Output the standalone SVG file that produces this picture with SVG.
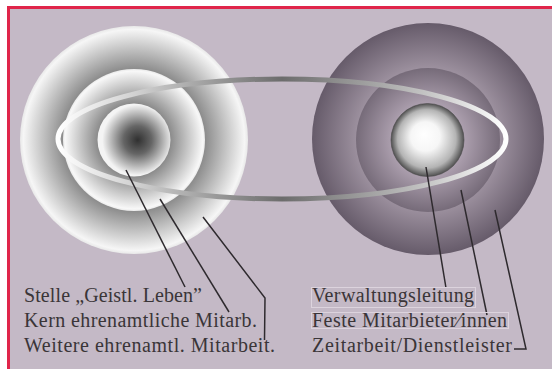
<svg xmlns="http://www.w3.org/2000/svg" width="552" height="369" viewBox="0 0 552 369">
<style>
.lbl{font-family:"Liberation Serif","DejaVu Serif",serif;font-size:20px;fill:#3a3538}
.lead{fill:none;stroke:#2e2a2e;stroke-width:1.5;stroke-linejoin:miter}
.box{fill:none;stroke:#dcd3dd;stroke-width:1}
</style>
<defs>
<radialGradient id="gLo" cx="0.5" cy="0.5" r="0.5">
<stop offset="0" stop-color="#555"/><stop offset="0.6" stop-color="#858585"/><stop offset="0.97" stop-color="#f6f6f6"/><stop offset="1" stop-color="#e8e8e8"/>
</radialGradient>
<radialGradient id="gLm" cx="0.5" cy="0.5" r="0.5">
<stop offset="0" stop-color="#555"/><stop offset="0.5" stop-color="#888"/><stop offset="0.97" stop-color="#f8f8f8"/><stop offset="1" stop-color="#eaeaea"/>
</radialGradient>
<radialGradient id="gLi" cx="0.55" cy="0.5" r="0.55">
<stop offset="0" stop-color="#303030"/><stop offset="0.35" stop-color="#656565"/><stop offset="0.88" stop-color="#f4f4f4"/><stop offset="1" stop-color="#f4f4f4"/>
</radialGradient>
<radialGradient id="gRo" cx="0.5" cy="0.5" r="0.5">
<stop offset="0" stop-color="#b4a8b6"/><stop offset="0.6" stop-color="#9e92a0"/><stop offset="1" stop-color="#665b6a"/>
</radialGradient>
<radialGradient id="gRm" cx="0.5" cy="0.5" r="0.5">
<stop offset="0" stop-color="#b8acba"/><stop offset="0.5" stop-color="#ac9fae"/><stop offset="1" stop-color="#766b79"/>
</radialGradient>
<radialGradient id="gRi" cx="0.5" cy="0.5" r="0.5" fx="0.45" fy="0.42">
<stop offset="0" stop-color="#ffffff"/><stop offset="0.4" stop-color="#f6f6f6"/><stop offset="0.8" stop-color="#b4b4b4"/><stop offset="1" stop-color="#505050"/>
</radialGradient>
<linearGradient id="gRing" gradientUnits="userSpaceOnUse" x1="58" y1="0" x2="506" y2="0">
<stop offset="0" stop-color="#ffffff"/><stop offset="0.18" stop-color="#cfcfcf"/><stop offset="0.5" stop-color="#6c6c6c"/><stop offset="0.82" stop-color="#c4c4c4"/><stop offset="1" stop-color="#ffffff"/>
</linearGradient>
</defs>
<rect x="0" y="0" width="552" height="369" fill="#ffffff"/>
<rect x="8" y="7" width="544" height="362" fill="#c4b9c6"/>
<path d="M8.5 369 V7.5 H552" fill="none" stroke="#e0254a" stroke-width="3"/>
<g id="left-outer"><circle cx="134" cy="140" r="114" fill="url(#gLo)"/></g>
<g id="left-middle"><circle cx="134" cy="140" r="71" fill="url(#gLm)"/></g>
<g id="left-inner"><circle cx="134" cy="140" r="36.5" fill="url(#gLi)"/></g>
<g id="right-outer"><circle cx="428" cy="139" r="116" fill="url(#gRo)"/></g>
<g id="right-middle"><circle cx="428" cy="140" r="72" fill="url(#gRm)"/></g>
<g id="right-inner"><circle cx="427.5" cy="140" r="36.5" fill="url(#gRi)" stroke="#4a4a4a" stroke-width="0.6"/></g>
<g id="ring"><ellipse cx="282" cy="139" rx="224" ry="60" fill="none" stroke="url(#gRing)" stroke-width="5"/></g>
<g id="connectors">
<path class="lead" d="M126 170 L185 287"/>
<path class="lead" d="M160 199 L229 312"/>
<path class="lead" d="M203 217 L265 298 L264.5 340"/>
<path class="lead" d="M426 167 L446 288"/>
<path class="lead" d="M461 190 L487 315"/>
<path class="lead" d="M495 210 L526 349 L514 349"/>
</g>
<g id="labels-left">
<text class="lbl" x="24" y="302" textLength="178" lengthAdjust="spacing">Stelle „Geistl. Leben”</text>
<text class="lbl" x="24" y="327" textLength="233" lengthAdjust="spacing">Kern ehrenamtliche Mitarb.</text>
<text class="lbl" x="24" y="352" textLength="251" lengthAdjust="spacing">Weitere ehrenamtl. Mitarbeit.</text>
</g>
<g id="labels-right">
<rect class="box" x="311.5" y="287.5" width="164" height="20"/>
<rect class="box" x="311.5" y="312.5" width="197" height="16"/>
<text class="lbl" x="312" y="302" textLength="162" lengthAdjust="spacing">Verwaltungsleitung</text>
<text class="lbl" x="312" y="327" textLength="195" lengthAdjust="spacing">Feste Mitarbieter⁄innen</text>
<text class="lbl" x="312" y="352" textLength="200" lengthAdjust="spacing">Zeitarbeit/Dienstleister</text>
</g>
</svg>
